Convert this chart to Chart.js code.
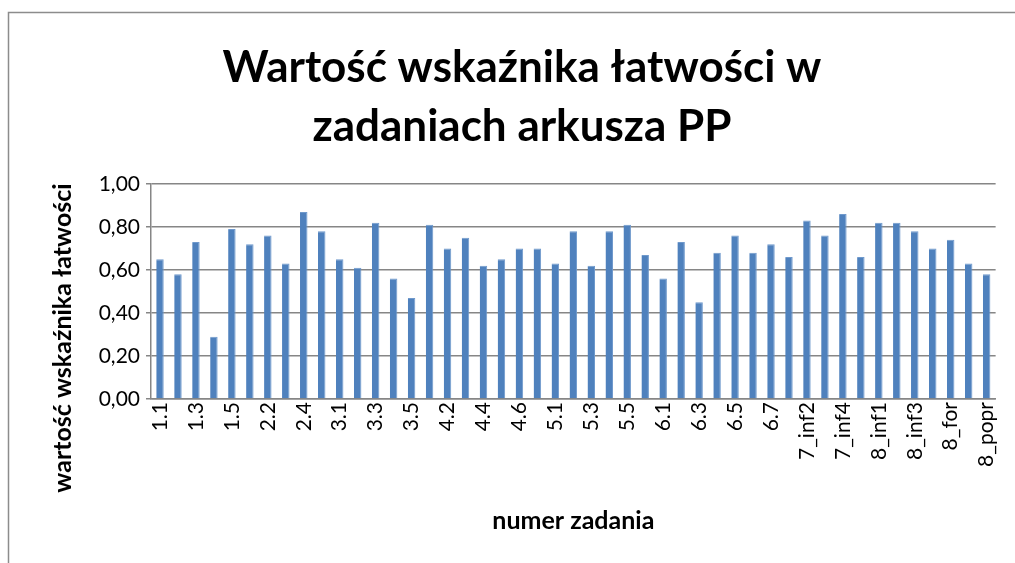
<!DOCTYPE html>
<html>
<head>
<meta charset="utf-8">
<script src="https://cdn.jsdelivr.net/npm/chart.js@4/dist/chart.umd.min.js"></script>
<style>
  html, body { margin: 0; padding: 0; background: #fff; }
  #wrap { width: 1015px; height: 563px; position: relative; }
</style>
</head>
<body>
<div id="wrap"><canvas id="c" width="1015" height="563"></canvas></div>
<script>
const zadania = [
  "1.1", "1.2", "1.3", "1.4", "1.5",
  "2.1", "2.2", "2.3", "2.4", "2.5",
  "3.1", "3.2", "3.3", "3.4", "3.5",
  "4.1", "4.2", "4.3", "4.4", "4.5", "4.6", "4.7",
  "5.1", "5.2", "5.3", "5.4", "5.5", "5.6",
  "6.1", "6.2", "6.3", "6.4", "6.5", "6.6", "6.7",
  "7_inf1", "7_inf2", "7_inf3", "7_inf4", "7_inf5",
  "8_inf1", "8_inf2", "8_inf3", "8_inf4", "8_for", "8_pop", "8_popr",
];
const latwosc = [
  0.65, 0.58, 0.73, 0.29, 0.79,
  0.72, 0.76, 0.63, 0.87, 0.78,
  0.65, 0.61, 0.82, 0.56, 0.47,
  0.81, 0.70, 0.75, 0.62, 0.65, 0.70, 0.70,
  0.63, 0.78, 0.62, 0.78, 0.81, 0.67,
  0.56, 0.73, 0.45, 0.68, 0.76, 0.68, 0.72,
  0.66, 0.83, 0.76, 0.86, 0.66,
  0.82, 0.82, 0.78, 0.70, 0.74, 0.63, 0.58,
];
const yTicks = [0, 0.2, 0.4, 0.6, 0.8, 1.0];
const yTitle = "wartość wskaźnika łatwości";

const FONT = "Lato, 'Open Sans', sans-serif";
const GRID = "#868686";

// outer frame of the chart object (only left and top edges are visible)
// and the value-axis title, which Excel centres lower than the plot area
const frame = {
  id: "frame",
  beforeDraw(chart) {
    const ctx = chart.ctx;
    ctx.save();
    ctx.strokeStyle = "#8c8c8c";
    ctx.lineWidth = 1.5;
    ctx.strokeRect(8.5, 12.5, 1100, 700);
    ctx.restore();
  },
  afterDraw(chart) {
    const ctx = chart.ctx;
    ctx.save();
    ctx.translate(63, 338);
    ctx.rotate(-Math.PI / 2);
    ctx.fillStyle = "#000";
    ctx.font = `bold 25px ${FONT}`;
    ctx.textAlign = "center";
    ctx.textBaseline = "middle";
    ctx.fillText(yTitle, 0, 0);
    ctx.restore();
  },
};

new Chart(document.getElementById("c").getContext("2d"), {
  type: "bar",
  data: {
    labels: zadania,
    datasets: [{
      data: latwosc,
      backgroundColor: "#4f81bd",
      borderColor: "#6f99cc",
      borderWidth: { left: 0, top: 1, right: 1, bottom: 0 },
      categoryPercentage: 0.8,
      barPercentage: 0.52,
    }],
  },
  options: {
    responsive: false,
    animation: false,
    layout: { padding: { left: 44, right: 15, top: 0, bottom: 23 } },
    plugins: {
      legend: { display: false },
      tooltip: { enabled: false },
      title: {
        display: true,
        text: ["Wartość wskaźnika łatwości w", "zadaniach arkusza PP"],
        color: "#000",
        font: { family: FONT, size: 44, weight: "bold", lineHeight: 1.34 },
        padding: { top: 38, bottom: 28 },
      },
    },
    scales: {
      x: {
        grid: { display: false, drawTicks: false },
        border: { color: GRID, width: 1.5 },
        ticks: {
          autoSkip: false,
          maxRotation: 90,
          minRotation: 90,
          padding: 3,
          color: "#000",
          font: { family: FONT, size: 21 },
          callback: (v, i) => (i % 2 === 0 ? zadania[i] : ""),
        },
        title: {
          display: true,
          text: "numer zadania",
          color: "#000",
          font: { family: FONT, size: 25, weight: "bold" },
          padding: { top: 4, bottom: 4 },
        },
        afterFit: (s) => { s.height = 141; },
      },
      y: {
        min: 0,
        max: 1,
        afterBuildTicks: (s) => { s.ticks = yTicks.map(v => ({ value: v })); },
        grid: { color: GRID, lineWidth: 1.5, tickLength: 5 },
        border: { color: GRID, width: 1.5 },
        ticks: {
          color: "#000",
          padding: 6,
          font: { family: FONT, size: 21 },
          callback: (v) => v.toFixed(2).replace(".", ","),
        },
        afterFit: (s) => { s.width = 107; },
      },
    },
  },
  plugins: [frame],
});
</script>
</body>
</html>
